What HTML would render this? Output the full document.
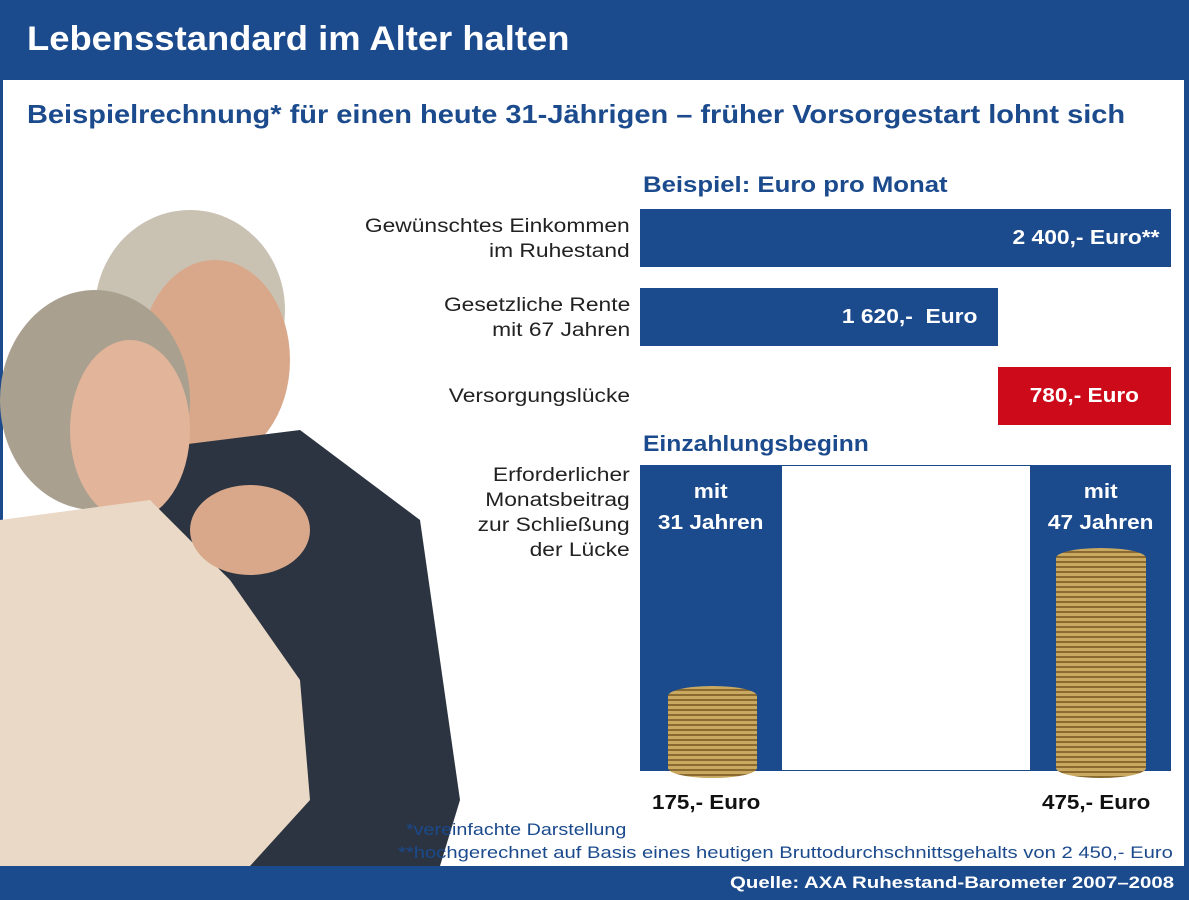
<!DOCTYPE html>
<html><head><meta charset="utf-8"><style>
*{margin:0;padding:0}
body{width:1189px;height:900px;position:relative;background:#fff;font-family:"Liberation Sans",Arial,sans-serif;overflow:hidden}
.a{position:absolute;white-space:nowrap}
.b{font-weight:bold}
.blue{background:#1b4a8d}
.lab{position:absolute;right:559px;text-align:right;font-size:19px;color:#222;line-height:25px;transform:scaleX(1.2);transform-origin:right top;white-space:nowrap}
.sx{display:inline-block;transform:scaleX(1.13);transform-origin:center}
</style></head><body>
<div class="a blue" style="left:0;top:0;width:1189px;height:80px"></div>
<div class="a blue" style="left:0;top:0;width:3px;height:900px"></div>
<div class="a blue" style="left:1184px;top:0;width:5px;height:900px"></div>
<div class="a b" style="left:27px;top:20px;font-size:34px;color:#fff;transform:scaleX(1.07);transform-origin:left">Lebensstandard im Alter halten</div>
<div class="a b" style="left:27px;top:99px;font-size:26px;color:#1b4a8d;transform:scaleX(1.115);transform-origin:left">Beispielrechnung* für einen heute 31-Jährigen – früher Vorsorgestart lohnt sich</div>

<svg class="a" style="left:0;top:200px" width="470" height="666">
<ellipse cx="190" cy="110" rx="95" ry="100" fill="#c9c2b3"/>
<ellipse cx="215" cy="160" rx="75" ry="100" fill="#d9a88a"/>
<path d="M140 250 L300 230 L420 320 L460 600 L440 666 L150 666 Z" fill="#2b3440"/>
<ellipse cx="95" cy="200" rx="95" ry="110" fill="#a9a090"/>
<ellipse cx="130" cy="230" rx="60" ry="90" fill="#e2b49a"/>
<path d="M0 320 L150 300 L230 380 L300 480 L310 600 L250 666 L0 666 Z" fill="#ead9c6"/>
<ellipse cx="250" cy="330" rx="60" ry="45" fill="#d9a88a"/>
</svg>

<div class="a b" style="left:643px;top:172px;font-size:22px;color:#1b4a8d;transform:scaleX(1.17);transform-origin:left">Beispiel: Euro pro Monat</div>
<div class="lab" style="top:214px">Gewünschtes Einkommen<br>im Ruhestand</div>
<div class="lab" style="top:293px">Gesetzliche Rente<br>mit 67 Jahren</div>
<div class="lab" style="top:384px">Versorgungslücke</div>
<div class="lab" style="top:463px">Erforderlicher<br>Monatsbeitrag<br>zur Schließung<br>der Lücke</div>

<div class="a blue b" style="left:640px;top:209px;width:531px;height:58px;color:#fff;font-size:20px;text-align:right;line-height:58px"><span style="display:inline-block;transform:scaleX(1.14);transform-origin:right;padding-right:10px">2 400,- Euro**</span></div>
<div class="a blue b" style="left:640px;top:288px;width:358px;height:58px;color:#fff;font-size:20px;text-align:right;line-height:58px"><span style="display:inline-block;transform:scaleX(1.14);transform-origin:right;padding-right:18px">1 620,-&nbsp; Euro</span></div>
<div class="a b" style="left:998px;top:367px;width:173px;height:58px;background:#cc0a1a;color:#fff;font-size:20px;text-align:center;line-height:58px"><span class="sx">780,- Euro</span></div>

<div class="a b" style="left:643px;top:431px;font-size:22px;color:#1b4a8d;transform:scaleX(1.12);transform-origin:left">Einzahlungsbeginn</div>
<div class="a" style="left:640px;top:465px;width:529px;height:304px;border:1px solid #1b4a8d"></div>
<div class="a blue b" style="left:640px;top:465px;width:142px;height:306px;color:#fff;font-size:20px;text-align:center;line-height:31px;padding-top:12px;box-sizing:border-box"><span class="sx">mit<br>31 Jahren</span></div>
<div class="a blue b" style="left:1030px;top:465px;width:141px;height:306px;color:#fff;font-size:20px;text-align:center;line-height:31px;padding-top:12px;box-sizing:border-box"><span class="sx">mit<br>47 Jahren</span></div>
<div class="a" style="left:668px;top:686px;width:89px;height:92px;border-radius:44px/10px;background:repeating-linear-gradient(#c9a860 0 3px,#8a6a30 3px 5px)"></div>
<div class="a" style="left:1056px;top:548px;width:90px;height:230px;border-radius:45px/10px;background:repeating-linear-gradient(#c9a860 0 3px,#8a6a30 3px 5px)"></div>

<div class="a b" style="left:652px;top:792px;font-size:20px;color:#111;transform:scaleX(1.12);transform-origin:left">175,- Euro</div>
<div class="a b" style="left:1042px;top:792px;font-size:20px;color:#111;transform:scaleX(1.12);transform-origin:left">475,- Euro</div>
<div class="a" style="left:406px;top:820px;font-size:17px;color:#1b4a8d;transform:scaleX(1.16);transform-origin:left">*vereinfachte Darstellung</div>
<div class="a" style="left:398px;top:843px;font-size:17px;color:#1b4a8d;transform:scaleX(1.19);transform-origin:left">**hochgerechnet auf Basis eines heutigen Bruttodurchschnittsgehalts von 2 450,- Euro</div>
<div class="a blue" style="left:0;top:866px;width:1189px;height:34px"></div>
<div class="a b" style="right:15px;top:873px;font-size:17px;color:#fff;transform:scaleX(1.2);transform-origin:right">Quelle: AXA Ruhestand-Barometer 2007–2008</div>
</body></html>
